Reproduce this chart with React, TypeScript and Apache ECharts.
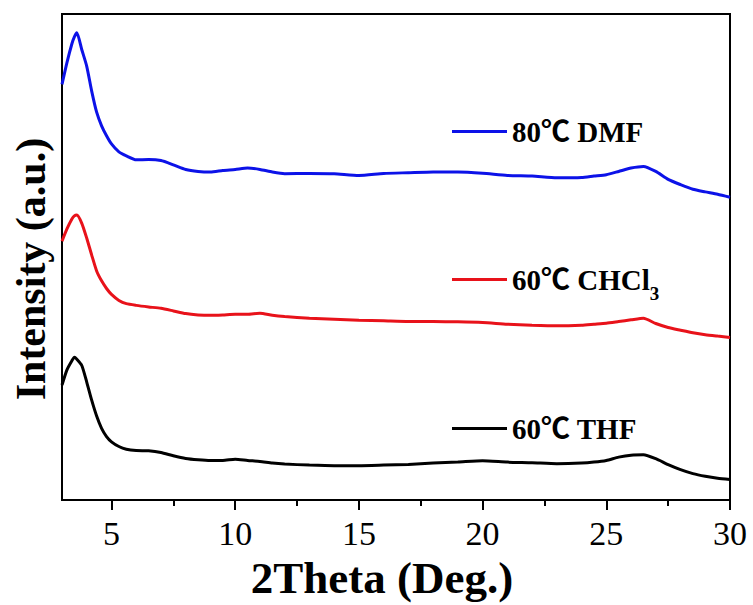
import React, { useEffect, useRef } from "react";
import * as echarts from "echarts";

// 2θ sampling positions (degrees)
const twoTheta = [
  3, 3.2, 3.4, 3.5, 3.6, 3.8, 4.0, 4.2, 4.4, 4.6, 4.8, 5.0, 5.3, 5.6, 6, 6.5, 7, 7.5, 8, 8.5, 9, 9.5,
  10, 10.5, 11, 11.5, 12, 13, 14, 15, 16, 17, 18, 19, 20, 21, 22, 23, 24, 24.5, 25, 25.5, 26, 26.5,
  27, 27.5, 28, 28.5, 29, 29.5, 30,
];

// Intensity (a.u., stacked with vertical offsets)
const dmf80 = [
  4190, 4410, 4600, 4670, 4710, 4540, 4373, 4123, 3910, 3773, 3673, 3590, 3510, 3470, 3430, 3433,
  3423, 3380, 3333, 3313, 3307, 3323, 3333, 3347, 3333, 3307, 3290, 3293, 3290, 3273, 3293, 3300,
  3307, 3307, 3295, 3273, 3267, 3250, 3253, 3267, 3280, 3313, 3347, 3363, 3313, 3233, 3180, 3133,
  3107, 3083, 3053,
];
const chcl360 = [
  2610, 2733, 2833, 2865, 2873, 2790, 2640, 2470, 2310, 2210, 2133, 2073, 2013, 1980, 1963, 1947,
  1933, 1907, 1880, 1867, 1863, 1867, 1873, 1873, 1883, 1863, 1850, 1833, 1823, 1813, 1807, 1800,
  1800, 1797, 1790, 1773, 1763, 1757, 1763, 1773, 1783, 1800, 1817, 1833, 1780, 1740, 1713, 1687,
  1667, 1653, 1640,
];
const thf60 = [
  1160, 1313, 1405, 1440, 1420, 1357, 1190, 1007, 847, 723, 640, 587, 540, 513, 500, 497, 480, 447,
  420, 407, 400, 400, 413, 400, 390, 373, 363, 353, 347, 347, 353, 360, 373, 383, 397, 383, 377, 367,
  373, 383, 400, 433, 453, 457, 417, 357, 307, 267, 240, 220, 207,
];

const seriesNames = ["80℃ DMF", "60℃ CHCl3", "60℃ THF"];
const seriesColors = ["#0c12e8", "#e8121a", "#000000"];
const majorTicks = [5, 10, 15, 20, 25, 30];
const minorTicks = [7.5, 12.5, 17.5, 22.5, 27.5];

const serif = "'Times New Roman', 'Liberation Serif', 'Noto Sans CJK SC', serif";

export default function App() {
  const ref = useRef<HTMLDivElement>(null);

  useEffect(() => {
    if (!ref.current) return;
    const chart = echarts.init(ref.current, undefined, { renderer: "svg" });
    const values = [dmf80, chcl360, thf60];
    const legendTops = [117, 265, 414];

    chart.setOption({
      animation: false,
      backgroundColor: "#ffffff",
      grid: {
        left: 62,
        right: 23,
        top: 14,
        bottom: 101,
        show: true,
        borderColor: "#000",
        borderWidth: 2,
        backgroundColor: "transparent",
      },
      legend: seriesNames.map((n, i) => ({
        data: [n],
        left: 452,
        top: legendTops[i],
        padding: 0,
        icon: "rect",
        itemWidth: 55,
        itemHeight: 3,
        selectedMode: false,
        formatter: (name: string) =>
          name === "60℃ CHCl3" ? "{m|60℃ CHCl}{s|3}" : `{m|${name}}`,
        textStyle: {
          color: "#000",
          fontFamily: serif,
          fontWeight: "bold",
          fontSize: 29,
          rich: {
            m: { fontSize: 29, fontWeight: "bold", fontFamily: serif, color: "#000" },
            s: {
              fontSize: 19,
              fontWeight: "bold",
              fontFamily: serif,
              color: "#000",
              padding: [28, 0, 0, 0],
            },
          },
        },
      })),
      xAxis: [
        {
          type: "value",
          min: 3,
          max: 30,
          position: "bottom",
          name: "2Theta (Deg.)",
          nameLocation: "middle",
          nameGap: 53,
          nameTextStyle: {
            fontFamily: serif,
            fontWeight: "bold",
            fontSize: 45,
            color: "#000",
            padding: [0, 28, 0, 0],
          },
          axisLine: { lineStyle: { color: "#000", width: 2 } },
          axisTick: {
            customValues: majorTicks,
            length: 10,
            lineStyle: { color: "#000", width: 2 },
          },
          axisLabel: {
            customValues: majorTicks,
            margin: 16,
            fontFamily: serif,
            fontSize: 34,
            color: "#000",
          },
          splitLine: { show: false },
        },
        {
          type: "value",
          min: 3,
          max: 30,
          position: "bottom",
          axisLine: { show: false },
          axisTick: {
            customValues: minorTicks,
            length: 6,
            lineStyle: { color: "#000", width: 2 },
          },
          axisLabel: { show: false },
          splitLine: { show: false },
        },
      ],
      yAxis: {
        type: "value",
        min: 0,
        max: 4900,
        name: "Intensity (a.u.)",
        nameLocation: "middle",
        nameGap: 10,
        nameTextStyle: {
          fontFamily: serif,
          fontWeight: "bold",
          fontSize: 42,
          color: "#000",
          padding: [0, 24, 0, 0],
        },
        axisLine: { show: true, lineStyle: { color: "#000", width: 2 } },
        axisTick: { show: false },
        axisLabel: { show: false },
        splitLine: { show: false },
      },
      series: seriesNames.map((n, i) => ({
        name: n,
        type: "line",
        xAxisIndex: 0,
        showSymbol: false,
        symbol: "none",
        smooth: 0.2,
        color: seriesColors[i],
        lineStyle: { color: seriesColors[i], width: 3 },
        data: twoTheta.map((t, j) => [t, values[i][j]]),
      })),
    });

    return () => chart.dispose();
  }, []);

  return (
    <div
      ref={ref}
      style={{ position: "fixed", left: 0, top: 0, width: 753, height: 605, background: "#fff" }}
    />
  );
}
